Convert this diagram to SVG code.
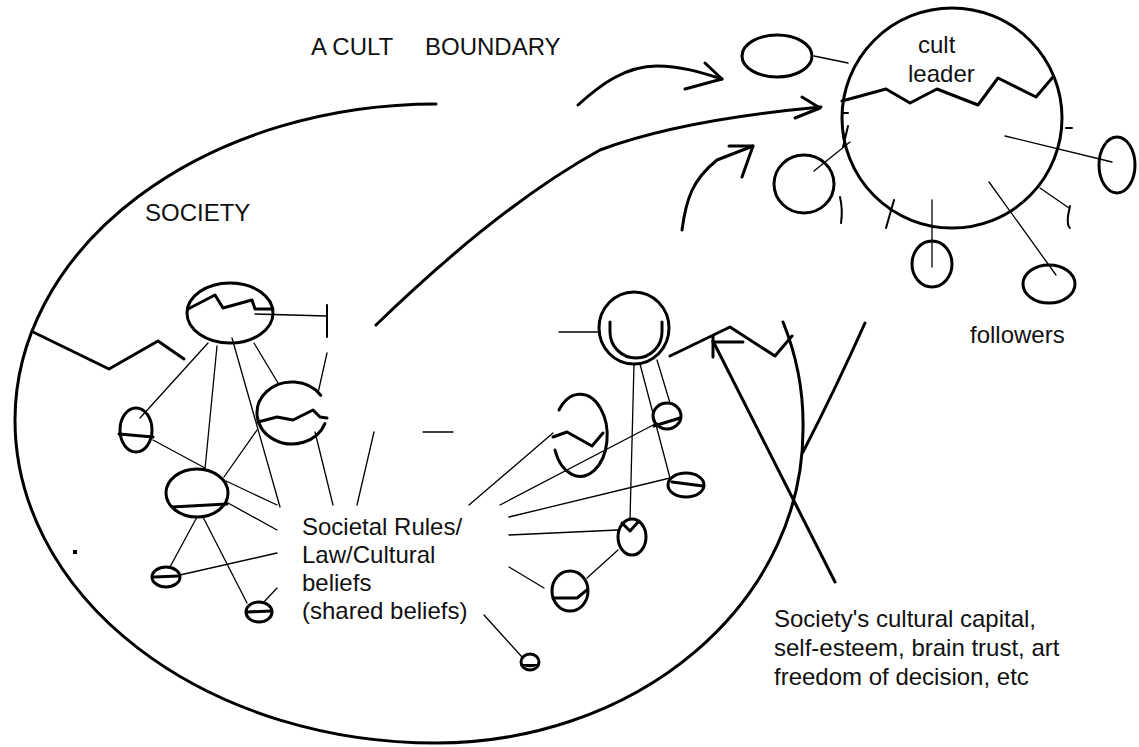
<svg xmlns="http://www.w3.org/2000/svg" width="1139" height="747" viewBox="0 0 1139 747">
<style>
.k{fill:none;stroke:#000;stroke-width:3;stroke-linecap:round;stroke-linejoin:round}
.m{fill:none;stroke:#000;stroke-width:2;stroke-linecap:round}
.t{fill:none;stroke:#000;stroke-width:1.3;stroke-linecap:round}
text{font-family:"Liberation Sans",Arial,sans-serif;font-size:24px;fill:#111}
</style>
<rect width="1139" height="747" fill="#fff"/>
<g id="labels">
<text x="311" y="55">A CULT<tspan x="425">BOUNDARY</tspan></text>
<text x="145" y="221">SOCIETY</text>
<text x="970" y="343">followers</text>
<text x="302" y="535">Societal Rules/</text>
<text x="302" y="563">Law/Cultural</text>
<text x="302" y="591">beliefs</text>
<text x="302" y="619">(shared beliefs)</text>
<text x="774" y="627">Society's cultural capital,</text>
<text x="774" y="656">self-esteem, brain trust, art</text>
<text x="774" y="685">freedom of decision, etc</text>
</g>
<g id="society-boundary">
<path class="k" d="M436,104 A421,316 0 0 0 15,420 A421,323 0 0 0 436,743 A367,313 0 0 0 803,430 A367,313 0 0 0 783,322"/>
<polyline class="k" points="33,332 109,369 158,341 184,359"/>
<rect x="73" y="550" width="4" height="4" fill="#000"/>
</g>
<g id="cult-leader">
<circle class="k" cx="952" cy="118" r="110"/>
<polyline class="k" points="842,101 886,89 910,103 937,89 978,105 998,78 1036,97 1053,77"/>
<text x="918" y="53">cult</text>
<text x="908" y="82">leader</text>
</g>
<g id="follower-top"><ellipse class="k" cx="777" cy="56" rx="35" ry="21"/></g>
<g id="follower-left"><ellipse class="k" cx="804" cy="184" rx="30" ry="29"/></g>
<g id="follower-bottom"><ellipse class="k" cx="932" cy="264" rx="20" ry="23"/></g>
<g id="follower-bottom-right"><ellipse class="k" cx="1049" cy="284" rx="26" ry="19"/></g>
<g id="follower-right"><ellipse class="k" cx="1117" cy="165" rx="18" ry="28"/></g>
<g id="society-node-top">
<ellipse class="k" cx="230" cy="313" rx="43" ry="30"/>
<polyline class="k" points="188,309 215,295 223,308 252,300 255,309 273,309"/>
</g>
<g id="society-node-middle">
<path class="k" d="M320.7,395.2 A35,31 0 1 0 324.9,423.6"/>
<polyline class="k" points="258,422 277,417 293,420 313,410 320,417 327,418"/>
</g>
<g id="society-node-left">
<ellipse class="k" cx="136" cy="430" rx="16" ry="22"/>
<line class="k" x1="119" y1="434" x2="153" y2="437"/>
</g>
<g id="society-node-lower">
<ellipse class="k" cx="197" cy="493" rx="31" ry="24"/>
<line class="k" x1="172" y1="507" x2="227" y2="504"/>
</g>
<g id="society-node-small1">
<ellipse class="k" cx="166" cy="577" rx="14" ry="10"/>
<line class="k" x1="154" y1="577" x2="179" y2="576"/>
</g>
<g id="society-node-small2">
<ellipse class="k" cx="259" cy="612" rx="13" ry="10"/>
<line class="k" x1="247" y1="612" x2="271" y2="611"/>
</g>
<g id="society-node-double">
<ellipse class="k" cx="634" cy="328" rx="35" ry="36"/>
<path class="k" d="M610,322 V332 A26,26 0 0 0 662,332 V322"/>
</g>
<g id="society-node-broken">
<path class="k" d="M559,410 A27,41 0 1 1 555,450"/>
<polyline class="k" points="553,437 567,432 592,446 603,433"/>
</g>
<g id="society-node-a">
<ellipse class="k" cx="667" cy="416" rx="14" ry="13"/>
<line class="k" x1="654" y1="426" x2="680" y2="418"/>
</g>
<g id="society-node-b">
<ellipse class="k" cx="686" cy="485" rx="18" ry="12"/>
<line class="k" x1="672" y1="482" x2="703" y2="486"/>
</g>
<g id="society-node-v">
<ellipse class="k" cx="632" cy="537" rx="14" ry="18"/>
<polyline class="k" points="622,523 630,531 639,521"/>
</g>
<g id="society-node-c">
<ellipse class="k" cx="570" cy="591" rx="18" ry="20"/>
<polyline class="k" points="553,598 577,598 587,590"/>
</g>
<g id="society-node-tiny">
<ellipse class="k" cx="530" cy="662" rx="9" ry="8"/>
<path d="M522,664 A9,6 0 0 0 538,664 Z" fill="#000"/>
</g>
<g id="connectors">
<path class="k" d="M578,105 C600,85 625,66 657,66 C680,66 700,72 722,79"/>
<polyline class="k" points="705,63 722,79 685,89"/>
<path class="k" d="M376,325 Q500,205 600,150 Q680,120 821,107"/>
<polyline class="k" points="802,97 820,108 795,118"/>
<path class="k" d="M682,230 C686,200 692,180 717,160 L753,146"/>
<polyline class="k" points="729,146 753,146 742,177"/>
<line class="t" x1="814" y1="56" x2="848" y2="63"/>
<line class="m" x1="842" y1="113" x2="848" y2="113"/>
<line class="m" x1="848" y1="126" x2="843" y2="147"/>
<line class="t" x1="850" y1="142" x2="814" y2="171"/>
<path class="m" d="M840,197 Q843,210 841,223"/>
<line class="m" x1="894" y1="200" x2="886" y2="228"/>
<line class="t" x1="932" y1="200" x2="932" y2="267"/>
<line class="t" x1="989" y1="182" x2="1056" y2="275"/>
<line class="t" x1="1005" y1="136" x2="1112" y2="162"/>
<line class="m" x1="1066" y1="128" x2="1072" y2="128"/>
<line class="t" x1="1040" y1="188" x2="1069" y2="208"/>
<path class="m" d="M1070,206 L1068,216 Q1067,226 1070,228"/>
<line class="t" x1="255" y1="314" x2="327" y2="316"/>
<line class="m" x1="327" y1="305" x2="327" y2="337"/>
<line class="t" x1="327" y1="353" x2="318" y2="393"/>
<line class="t" x1="208" y1="343" x2="140" y2="418"/>
<line class="t" x1="217" y1="346" x2="205" y2="469"/>
<line class="t" x1="232" y1="338" x2="280" y2="507"/>
<line class="t" x1="254" y1="343" x2="278" y2="383"/>
<line class="t" x1="153" y1="440" x2="205" y2="468"/>
<line class="t" x1="226" y1="481" x2="277" y2="505"/>
<line class="t" x1="257" y1="430" x2="224" y2="477"/>
<line class="t" x1="315" y1="432" x2="333" y2="505"/>
<line class="t" x1="374" y1="432" x2="357" y2="505"/>
<line class="t" x1="423" y1="432" x2="453" y2="432"/>
<line class="t" x1="228" y1="503" x2="277" y2="530"/>
<line class="t" x1="197" y1="517" x2="170" y2="567"/>
<line class="t" x1="203" y1="517" x2="247" y2="603"/>
<line class="t" x1="180" y1="575" x2="277" y2="553"/>
<line class="t" x1="263" y1="603" x2="277" y2="588"/>
<line class="t" x1="469" y1="505" x2="553" y2="433"/>
<line class="t" x1="500" y1="505" x2="657" y2="423"/>
<line class="t" x1="509" y1="517" x2="670" y2="478"/>
<line class="t" x1="509" y1="535" x2="618" y2="530"/>
<line class="t" x1="509" y1="567" x2="544" y2="588"/>
<line class="t" x1="484" y1="615" x2="522" y2="657"/>
<line class="t" x1="587" y1="578" x2="618" y2="550"/>
<line class="t" x1="634" y1="364" x2="630" y2="520"/>
<line class="t" x1="640" y1="364" x2="670" y2="478"/>
<line class="t" x1="657" y1="360" x2="670" y2="403"/>
<line class="t" x1="559" y1="332" x2="600" y2="332"/>
<polyline class="k" points="670,356 730,327 775,356 792,336"/>
<line class="k" x1="713" y1="341" x2="835" y2="582"/>
<line class="k" x1="713" y1="336" x2="713" y2="357"/>
<line class="k" x1="713" y1="342" x2="743" y2="342"/>
<path class="k" d="M865,323 Q835,390 803,452"/>
</g>
</svg>
